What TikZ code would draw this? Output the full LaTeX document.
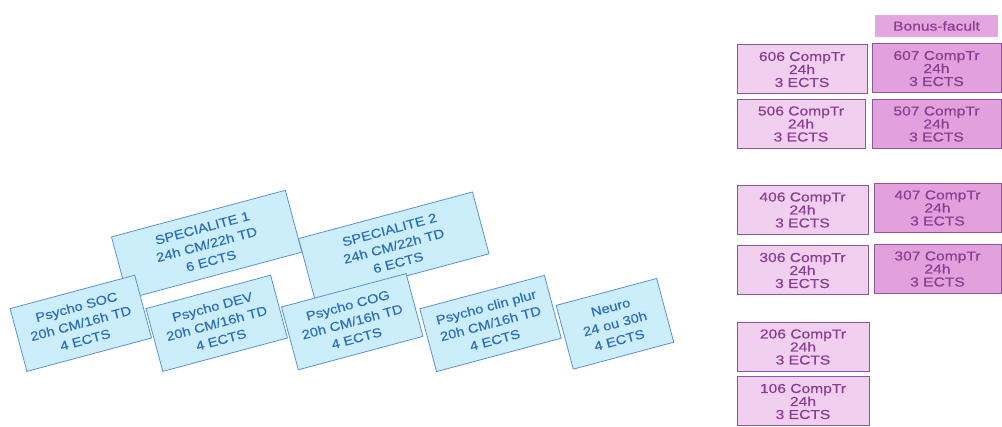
\documentclass[tikz,border=0pt]{standalone}
\usepackage{fontspec}
\setmainfont{Liberation Sans}
\newfontfamily\pfont[FakeStretch=1.2,FakeBold=0.5]{Liberation Sans}
\newfontfamily\bfont[FakeStretch=1.15,FakeBold=0.3]{Liberation Sans}
\definecolor{bluefill}{HTML}{CCEEFB}
\definecolor{bluedraw}{HTML}{5A92D4}
\definecolor{bluetext}{HTML}{2D6EBB}
\definecolor{plight}{HTML}{F1CFEE}
\definecolor{pdark}{HTML}{E2A0DC}
\definecolor{pdraw}{HTML}{8F559C}
\definecolor{ptext}{HTML}{8A3D92}
\definecolor{pbonus}{HTML}{E3A6DF}
\tikzset{
  bluebox/.style={draw=bluedraw, fill=bluefill, text=bluetext, line width=0.8pt,
    rotate=15, align=center, inner sep=0pt, minimum width=129pt, minimum height=65pt,
    font=\bfont\fontsize{12.8}{17}\selectfont},
  specbox/.style={bluebox, minimum width=180pt, minimum height=64pt},
  neurobox/.style={bluebox, minimum width=104pt, minimum height=66pt},
  pbox/.style={draw=pdraw, text=ptext, line width=1pt, align=center, inner sep=0pt,
    minimum height=49pt, font=\pfont\fontsize{13}{13}\selectfont},
  plbox/.style={pbox, fill=plight},
  pdbox/.style={pbox, fill=pdark},
}
\begin{document}
\begin{tikzpicture}[x=1pt,y=-1pt]
\useasboundingbox[fill=white] (0,0) rectangle (1002,427);
% blue boxes
\node[specbox] (spec1) at (206.7,244.5) {SPECIALITE 1\\24h CM/22h TD\\6 ECTS};
\node[specbox] (spec2) at (393.8,246.2) {SPECIALITE 2\\24h CM/22h TD\\6 ECTS};
\node[bluebox] (soc) at (80.8,323.3) {Psycho SOC\\20h CM/16h TD\\4 ECTS};
\node[bluebox] (dev) at (216.7,323.3) {Psycho DEV\\20h CM/16h TD\\4 ECTS};
\node[bluebox] (cog) at (352.2,321.7) {Psycho COG\\20h CM/16h TD\\4 ECTS};
\node[bluebox] (clin) at (490.5,323.5) {Psycho clin plur\\20h CM/16h TD\\4 ECTS};
\node[neurobox] (neuro) at (615,323.8) {Neuro\\24 ou 30h\\4 ECTS};
% purple boxes
\node[fill=pbonus, text=ptext, minimum width=123pt, minimum height=22pt, inner sep=0pt,
  font=\pfont\fontsize{13}{13}\selectfont] (bonus) at (936.5,26) {Bonus-facult};
\node[plbox, minimum width=130pt] (c606) at (802,69.5) {606 CompTr\\24h\\3 ECTS};
\node[pdbox, minimum width=129pt] (c607) at (936.5,68.5) {607 CompTr\\24h\\3 ECTS};
\node[plbox, minimum width=128pt] (c506) at (801,124) {506 CompTr\\24h\\3 ECTS};
\node[pdbox, minimum width=129pt] (c507) at (936.5,124) {507 CompTr\\24h\\3 ECTS};
\node[plbox, minimum width=131pt] (c406) at (802.5,210) {406 CompTr\\24h\\3 ECTS};
\node[pdbox, minimum width=127pt] (c407) at (937.5,208) {407 CompTr\\24h\\3 ECTS};
\node[plbox, minimum width=131pt] (c306) at (802.5,270.5) {306 CompTr\\24h\\3 ECTS};
\node[pdbox, minimum width=127pt] (c307) at (937.5,269) {307 CompTr\\24h\\3 ECTS};
\node[plbox, minimum width=132pt] (c206) at (803,347) {206 CompTr\\24h\\3 ECTS};
\node[plbox, minimum width=132pt] (c106) at (803,401.5) {106 CompTr\\24h\\3 ECTS};
\end{tikzpicture}
\end{document}
